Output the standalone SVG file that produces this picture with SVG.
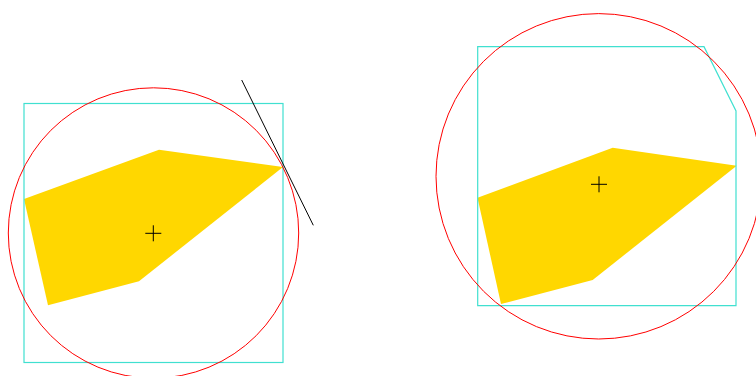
<svg xmlns="http://www.w3.org/2000/svg" width="756" height="376" viewBox="0 0 756 376">
<style>
.hull{fill:#FFD700;stroke:none}
.box{fill:none;stroke:#40E0D0;stroke-width:1.2}
.circ{fill:none;stroke:#FF0000;stroke-width:1}
.mark{stroke:#000;stroke-width:1;fill:none}
</style>
<rect width="756" height="376" fill="#fff"/>
<g id="left">
<polygon class="hull" points="24,199 159,149.7 283,167 139,281.3 48,305.3"/>
<rect class="box" x="24" y="103.5" width="259" height="259"/>
<circle class="circ" cx="153.5" cy="233" r="145.2"/>
<path class="mark" d="M145.3,233.3H161.3M153.3,225.3V241.3"/>
<line class="mark" x1="241.7" y1="80" x2="313.3" y2="225.3"/>
</g>
<g id="right">
<polygon class="hull" points="477.5,197.7 612.7,147.7 736.7,165.7 592.7,280 501,304"/>
<polygon class="box" points="477.7,46.7 704,46.7 736,111 736,305.7 477.7,305.7"/>
<circle class="circ" cx="598.7" cy="176.3" r="162.7"/>
<path class="mark" d="M591,184.3H607M599,176.3V192.3"/>
</g>
</svg>
